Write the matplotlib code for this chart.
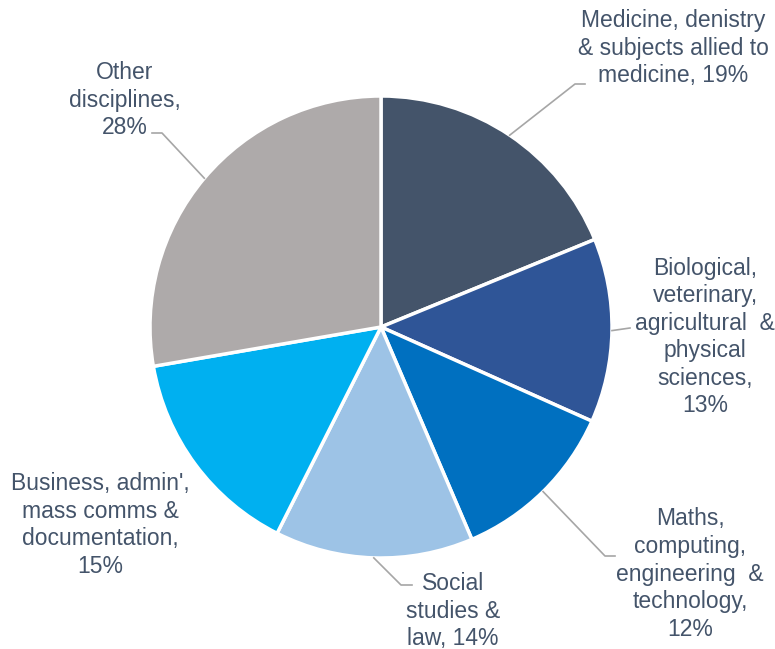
import numpy as np
import matplotlib.pyplot as plt

# data
labels = ['Medicine, denistry\n& subjects allied to\nmedicine, 19%',
          'Biological,\nveterinary,\nagricultural  &\nphysical\nsciences,\n13%',
          'Maths,\ncomputing,\nengineering  &\ntechnology,\n12%',
          'Social\nstudies &\nlaw, 14%',
          "Business, admin',\nmass comms &\ndocumentation,\n15%",
          'Other\ndisciplines,\n28%']
shares = [19, 13, 12, 14, 15, 28]
colors = ['#44546A', '#2F5597', '#0070C0', '#9DC3E6', '#00B0F0', '#AEAAAA']

W, H = 775, 649
cx, cy, R = 381, 327, 231

# label layout (pixel coords, y down): text centre, elbow start, elbow end
text_pos = [(673, 48), (705, 337), (690, 574), (453, 611), (100, 525), (125, 100)]
elbows = [((575, 84), (585, 84)),
          ((630, 328), (630, 328)),
          ((605, 556), (615, 556)),
          ((401, 585), (412, 585)),
          None,
          ((162, 133), (152, 133))]

txt_color = '#44546A'
line_color = '#A6A6A6'

fig = plt.figure(figsize=(W / 100, H / 100), dpi=100)
ax = fig.add_axes([0, 0, 1, 1])

wedges, _ = ax.pie(shares, colors=colors, startangle=90, counterclock=False,
                   center=(cx, H - cy), radius=R,
                   wedgeprops=dict(edgecolor='white', linewidth=2.5))
ax.set_xlim(0, W)
ax.set_ylim(0, H)
ax.set_aspect('equal')
ax.axis('off')

for w, lab, tp, el in zip(wedges, labels, text_pos, elbows):
    ang = np.deg2rad((w.theta1 + w.theta2) / 2)
    px = cx + R * np.cos(ang)
    py = (H - cy) + R * np.sin(ang)
    if el is not None:
        (x1, y1), (x2, y2) = el
        ax.plot([px, x1, x2], [py, H - y1, H - y2], color=line_color, lw=1.2)
    ax.text(tp[0], H - tp[1], lab, ha='center', va='center', ma='center',
            fontsize=16.5, color=txt_color, family='Liberation Sans',
            linespacing=1.25)

fig.savefig('out.png', dpi=100)
